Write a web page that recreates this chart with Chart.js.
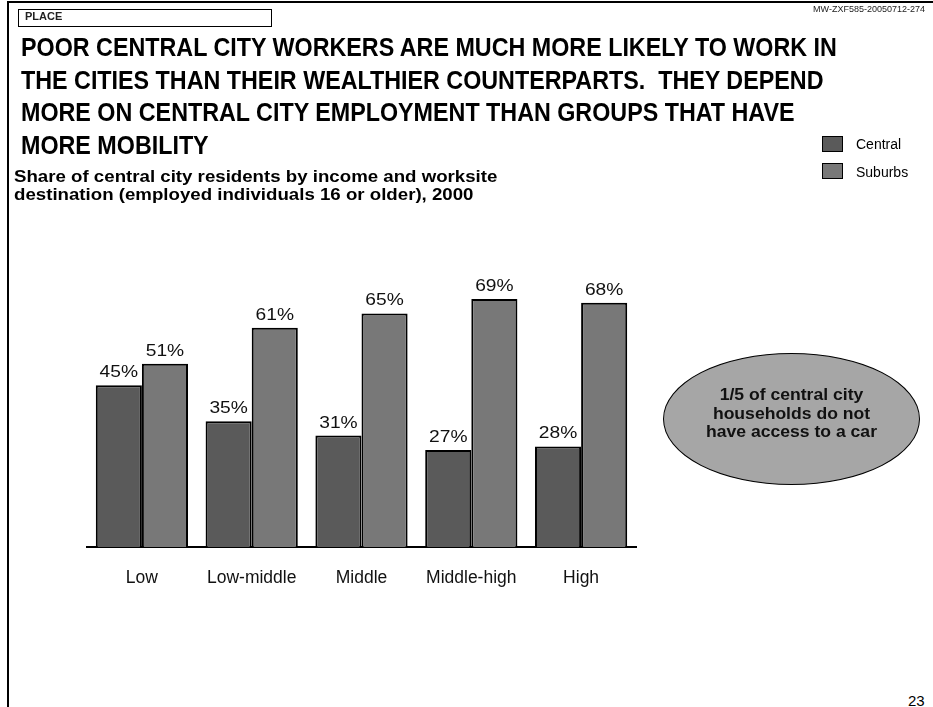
<!DOCTYPE html>
<html>
<head>
<meta charset="utf-8">
<script src="https://cdn.jsdelivr.net/npm/chart.js@4/dist/chart.umd.min.js"></script>
<style>
  html, body { margin: 0; padding: 0; background: #fff; }
  body { width: 933px; height: 707px; position: relative; overflow: hidden; font-family: "Liberation Sans", Arial, sans-serif; color: #000; }
  .abs { position: absolute; white-space: nowrap; }
  #frameTop { left: 7px; top: 1px; width: 926px; height: 2px; background: #000; }
  #frameLeft { left: 7px; top: 1px; width: 2px; height: 706px; background: #000; }
  #placeBox { left: 18px; top: 9px; width: 252px; height: 16px; border: 1.5px solid #000; }
  #place { left: 25px; top: 10px; font-size: 11px; font-weight: bold; color: #222; }
  #docid { right: 8px; top: 4px; font-size: 9px; color: #222; }
  #title { left: 21px; top: 31px; font-size: 26px; font-weight: bold; line-height: 32.7px; transform-origin: 0 0; transform: scaleX(0.896); }
  #subtitle { left: 14px; top: 168px; font-size: 17px; font-weight: bold; line-height: 18px; transform-origin: 0 0; transform: scaleX(1.098); }
  .legbox { width: 19px; height: 14px; border: 1.5px solid #000; }
  .legtxt { font-size: 14px; line-height: 16px; }
  #ellipse { left: 663px; top: 353px; width: 257px; height: 132px; border-radius: 50%; background: #a6a6a6; border: 1.3px solid #000; box-sizing: border-box; }
  #ellipseText { left: 663px; top: 385.4px; width: 257px; text-align: center; font-size: 16.5px; font-weight: bold; line-height: 18.3px; color: #111; transform: scaleX(1.065); }
  #pagenum { left: 908px; top: 693px; font-size: 15px; line-height: 15px; }
  #chartWrap { position: absolute; left: 0; top: 0; width: 933px; height: 600px; }
</style>
</head>
<body>
<div id="chartWrap"><canvas id="c"></canvas></div>
<div class="abs" id="frameTop"></div>
<div class="abs" id="frameLeft"></div>
<div class="abs" id="placeBox"></div>
<div class="abs" id="place">PLACE</div>
<div class="abs" id="docid">MW-ZXF585-20050712-274</div>
<div class="abs" id="title">POOR CENTRAL CITY WORKERS ARE MUCH MORE LIKELY TO WORK IN<br>THE CITIES THAN THEIR WEALTHIER COUNTERPARTS.&nbsp; THEY DEPEND<br>MORE ON CENTRAL CITY EMPLOYMENT THAN GROUPS THAT HAVE<br>MORE MOBILITY</div>
<div class="abs" id="subtitle">Share of central city residents by income and worksite<br>destination (employed individuals 16 or older), 2000</div>
<div class="abs legbox" id="leg0" style="left:822px; top:136px;"></div>
<div class="abs legtxt" id="legt0" style="left:856px; top:136px;"></div>
<div class="abs legbox" id="leg1" style="left:822px; top:163px;"></div>
<div class="abs legtxt" id="legt1" style="left:856px; top:164px;"></div>
<div class="abs" id="ellipse"></div>
<div class="abs" id="ellipseText">1/5 of central city<br>households do not<br>have access to a car</div>
<div class="abs" id="pagenum">23</div>
<script>
// ---- data ----
const categories = ["Low", "Low-middle", "Middle", "Middle-high", "High"];
const seriesNames = ["Central", "Suburbs"];
const centralValues = [45, 35, 31, 27, 28];
const suburbsValues = [51, 61, 65, 69, 68];
const seriesColors = ["#5a5a5a", "#787878"];

document.getElementById('leg0').style.background = seriesColors[0];
document.getElementById('leg1').style.background = seriesColors[1];
document.getElementById('legt0').textContent = seriesNames[0];
document.getElementById('legt1').textContent = seriesNames[1];

const valueLabels = {
  id: 'valueLabels',
  afterDatasetsDraw(chart) {
    const ctx = chart.ctx;
    chart.data.datasets.forEach((ds, i) => {
      const meta = chart.getDatasetMeta(i);
      meta.data.forEach((bar, j) => {
        ctx.save();
        ctx.font = '17px "Liberation Sans", Arial, sans-serif';
        ctx.fillStyle = '#111';
        ctx.textAlign = 'center';
        ctx.textBaseline = 'alphabetic';
        ctx.translate(bar.x, bar.y - 8);
        ctx.scale(1.13, 1);
        ctx.fillText(ds.data[j] + '%', 0, 0);
        ctx.restore();
      });
    });
  }
};

new Chart(document.getElementById('c'), {
  type: 'bar',
  data: {
    labels: categories,
    datasets: [
      { label: seriesNames[0], data: centralValues, backgroundColor: seriesColors[0], borderColor: '#000', borderWidth: 2, borderSkipped: 'bottom' },
      { label: seriesNames[1], data: suburbsValues, backgroundColor: seriesColors[1], borderColor: '#000', borderWidth: 2, borderSkipped: 'bottom' }
    ]
  },
  options: {
    responsive: true,
    maintainAspectRatio: false,
    animation: false,
    devicePixelRatio: 1,
    layout: { padding: { left: 87, right: 297, top: 259.5, bottom: 0 } },
    plugins: { legend: { display: false }, tooltip: { enabled: false } },
    datasets: { bar: { categoryPercentage: 0.84, barPercentage: 1.0 } },
    scales: {
      x: {
        grid: { display: false, drawTicks: false },
        border: { display: true, color: '#000', width: 2 },
        ticks: { color: '#111', font: { size: 17.5, family: '"Liberation Sans", Arial, sans-serif' }, padding: 21 },
        afterFit(scale) { scale.height = 53; }
      },
      y: { display: false, min: 0, max: 80 }
    }
  },
  plugins: [valueLabels]
});
</script>
</body>
</html>
